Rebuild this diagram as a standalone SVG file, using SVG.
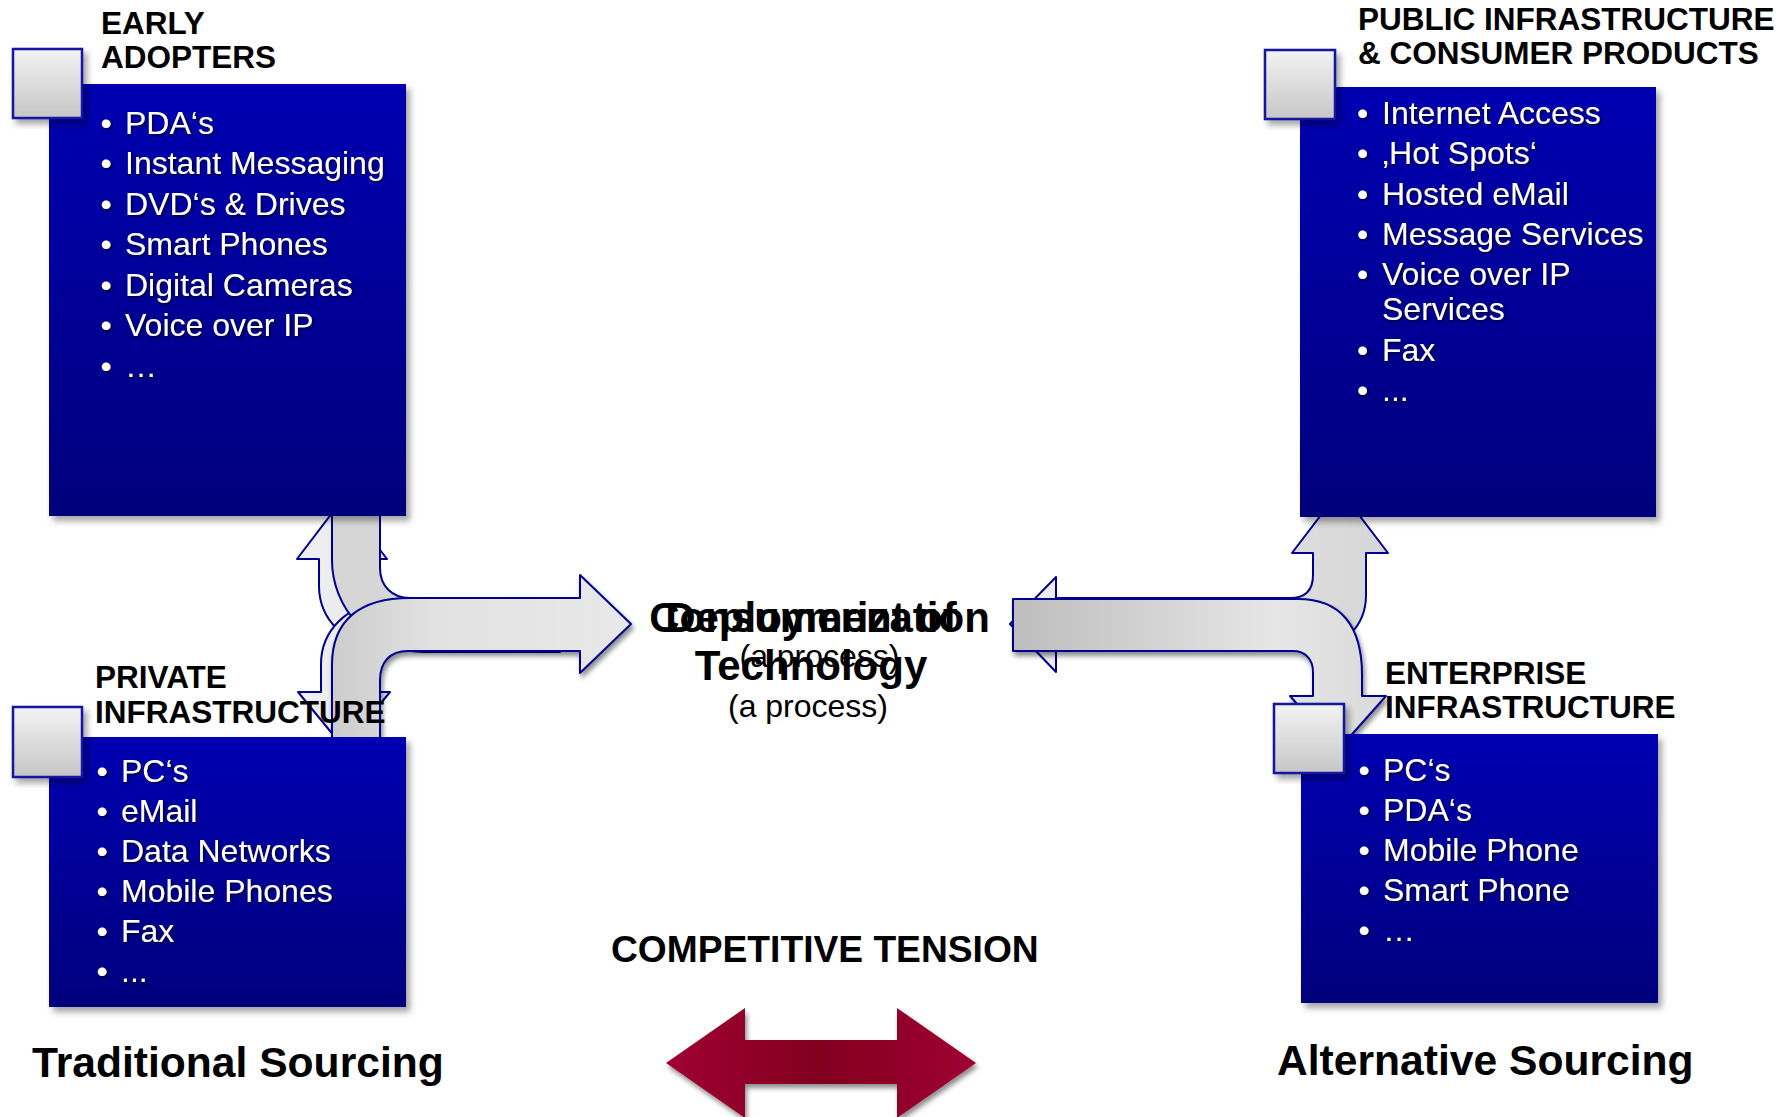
<svg xmlns="http://www.w3.org/2000/svg" width="1785" height="1117" viewBox="0 0 1785 1117">
<defs>
  <linearGradient id="boxGrad" x1="0" y1="0" x2="0" y2="1">
    <stop offset="0" stop-color="#0000B2"/>
    <stop offset="1" stop-color="#00007C"/>
  </linearGradient>
  <linearGradient id="sqGrad" x1="0" y1="0" x2="0" y2="1">
    <stop offset="0" stop-color="#F3F3F3"/>
    <stop offset="1" stop-color="#C6C6C6"/>
  </linearGradient>
  <linearGradient id="backGrad" x1="0" y1="0" x2="1" y2="0">
    <stop offset="0" stop-color="#F0F0F0"/>
    <stop offset="1" stop-color="#D6D6D6"/>
  </linearGradient>
  <linearGradient id="lFrontGrad" gradientUnits="userSpaceOnUse" x1="332" y1="0" x2="631" y2="0">
    <stop offset="0" stop-color="#CCCCCC"/>
    <stop offset="0.35" stop-color="#E2E2E2"/>
    <stop offset="1" stop-color="#E8E8E8"/>
  </linearGradient>
  <linearGradient id="rFrontGrad" gradientUnits="userSpaceOnUse" x1="1013" y1="0" x2="1362" y2="0">
    <stop offset="0" stop-color="#BDBDBD"/>
    <stop offset="0.75" stop-color="#E6E6E6"/>
    <stop offset="1" stop-color="#DCDCDC"/>
  </linearGradient>
  <linearGradient id="redGrad" x1="0" y1="0" x2="1" y2="0">
    <stop offset="0" stop-color="#A00032"/>
    <stop offset="0.5" stop-color="#82001F"/>
    <stop offset="1" stop-color="#A00032"/>
  </linearGradient>
  <filter id="boxShadow" x="-10%" y="-10%" width="125%" height="125%">
    <feDropShadow dx="4" dy="5" stdDeviation="3" flood-color="#000" flood-opacity="0.35"/>
  </filter>
  <filter id="arrowShadow" x="-10%" y="-10%" width="125%" height="130%">
    <feDropShadow dx="2" dy="4" stdDeviation="2.5" flood-color="#000" flood-opacity="0.45"/>
  </filter>
  <filter id="textShadow" x="-5%" y="-20%" width="115%" height="150%">
    <feDropShadow dx="1.5" dy="1.5" stdDeviation="1" flood-color="#000022" flood-opacity="0.9"/>
  </filter>
  <style>
    text { font-family: "Liberation Sans", Arial, sans-serif; }
    .title { font-size: 31.5px; font-weight: bold; fill: #000; }
    .item { font-size: 32px; fill: #FFFFFF; }
    .box { fill: url(#boxGrad); filter: url(#boxShadow); }
    .sq { fill: url(#sqGrad); stroke: #1212A0; stroke-width: 2.5; filter: url(#boxShadow); }
    .arr { stroke: #000090; stroke-width: 2; stroke-linejoin: round; }
    .back { fill: url(#backGrad); }
    .big { font-size: 42px; font-weight: bold; fill: #000; }
    .proc { font-size: 32px; fill: #000; }
    .src { font-size: 42.6px; font-weight: bold; fill: #000; }
  </style>
</defs>

<g id="connectors">
  <!-- left junction -->
  <path class="arr back" d="M 319,559 L 297,559 L 342,500 L 387,559 L 365,559 L 365,590 Q 365,600 378,600 L 560,600 L 560,646 L 379,646 A 60,60 0 0 1 319,586 Z"/>
  <path class="arr back" d="M 321,692 L 298,692 L 344,748 L 390,692 L 367,692 L 367,660 Q 367,650 380,650 L 560,650 L 560,604 L 381,604 A 60,60 0 0 0 321,664 Z"/>
  <path class="arr" fill="#D6D6D6" d="M 332,500 L 380,500 L 380,568 C 380,586 392,598 410,598 L 560,598 L 560,652 L 424,652 A 92,92 0 0 1 332,560 Z"/>
  <path class="arr" fill="url(#lFrontGrad)" filter="url(#arrowShadow)" d="M 332,745 L 332,665 C 332,620 360,598 410,598 L 580,598 L 580,575 L 631,624 L 580,673 L 580,651 L 408,651 C 390,651 380,662 380,680 L 380,745 Z"/>
  <!-- right junction -->
  <path class="arr back" d="M 1313,553 L 1292,553 L 1340,490 L 1388,553 L 1366,553 L 1366,595 C 1366,625 1345,651 1300,651 L 1056,651 L 1056,672 L 1010,624 L 1056,577 L 1056,598 L 1290,598 C 1305,598 1313,590 1313,575 Z"/>
  <path class="arr" fill="url(#rFrontGrad)" filter="url(#arrowShadow)" d="M 1013,599 L 1298,599 C 1340,599 1362,625 1362,675 L 1362,696 L 1386,696 L 1338,750 L 1290,696 L 1313,696 L 1313,672 C 1313,659 1305,651 1293,651 L 1013,651 Z"/>
</g>

<g id="early-adopters">
  <rect class="box" x="49" y="84" width="357" height="432"/>
  <rect class="sq" x="13" y="49" width="69" height="69"/>
  <text class="title" x="101" y="34">EARLY</text>
  <text class="title" x="101" y="68">ADOPTERS</text>
  <g filter="url(#textShadow)">
    <text class="item" x="100.5" y="133.5">•</text><text class="item" x="125" y="133.5">PDA‘s</text>
    <text class="item" x="100.5" y="174">•</text><text class="item" x="125" y="174">Instant Messaging</text>
    <text class="item" x="100.5" y="214.5">•</text><text class="item" x="125" y="214.5">DVD‘s &amp; Drives</text>
    <text class="item" x="100.5" y="255">•</text><text class="item" x="125" y="255">Smart Phones</text>
    <text class="item" x="100.5" y="295.5">•</text><text class="item" x="125" y="295.5">Digital Cameras</text>
    <text class="item" x="100.5" y="336">•</text><text class="item" x="125" y="336">Voice over IP</text>
    <text class="item" x="100.5" y="376.5">•</text><text class="item" x="125" y="376.5">…</text>
  </g>
</g>

<g id="public-infrastructure">
  <rect class="box" x="1300" y="87" width="356" height="430"/>
  <rect class="sq" x="1265" y="50" width="70" height="69"/>
  <text class="title" x="1358" y="30">PUBLIC INFRASTRUCTURE</text>
  <text class="title" x="1358" y="64">&amp; CONSUMER PRODUCTS</text>
  <g filter="url(#textShadow)">
    <text class="item" x="1357" y="123.5">•</text><text class="item" x="1382" y="123.5">Internet Access</text>
    <text class="item" x="1357" y="164">•</text><text class="item" x="1382" y="164">‚Hot Spots‘</text>
    <text class="item" x="1357" y="204.5">•</text><text class="item" x="1382" y="204.5">Hosted eMail</text>
    <text class="item" x="1357" y="244.5">•</text><text class="item" x="1382" y="244.5">Message Services</text>
    <text class="item" x="1357" y="285">•</text><text class="item" x="1382" y="285">Voice over IP</text>
    <text class="item" x="1382" y="319.5">Services</text>
    <text class="item" x="1357" y="360.5">•</text><text class="item" x="1382" y="360.5">Fax</text>
    <text class="item" x="1357" y="400.5">•</text><text class="item" x="1382" y="400.5">...</text>
  </g>
</g>

<g id="private-infrastructure">
  <rect class="box" x="49" y="737" width="357" height="270"/>
  <rect class="sq" x="13" y="707" width="69" height="70"/>
  <text class="title" x="95" y="688">PRIVATE</text>
  <text class="title" x="95" y="723">INFRASTRUCTURE</text>
  <g filter="url(#textShadow)">
    <text class="item" x="96.5" y="782">•</text><text class="item" x="121" y="782">PC‘s</text>
    <text class="item" x="96.5" y="822">•</text><text class="item" x="121" y="822">eMail</text>
    <text class="item" x="96.5" y="862">•</text><text class="item" x="121" y="862">Data Networks</text>
    <text class="item" x="96.5" y="902">•</text><text class="item" x="121" y="902">Mobile Phones</text>
    <text class="item" x="96.5" y="942">•</text><text class="item" x="121" y="942">Fax</text>
    <text class="item" x="96.5" y="982">•</text><text class="item" x="121" y="982">...</text>
  </g>
</g>

<g id="enterprise-infrastructure">
  <rect class="box" x="1301" y="734" width="357" height="269"/>
  <rect class="sq" x="1274" y="704" width="70" height="69"/>
  <text class="title" x="1385" y="684">ENTERPRISE</text>
  <text class="title" x="1385" y="718">INFRASTRUCTURE</text>
  <g filter="url(#textShadow)">
    <text class="item" x="1358.5" y="781">•</text><text class="item" x="1383" y="781">PC‘s</text>
    <text class="item" x="1358.5" y="821">•</text><text class="item" x="1383" y="821">PDA‘s</text>
    <text class="item" x="1358.5" y="861">•</text><text class="item" x="1383" y="861">Mobile Phone</text>
    <text class="item" x="1358.5" y="901">•</text><text class="item" x="1383" y="901">Smart Phone</text>
    <text class="item" x="1358.5" y="941">•</text><text class="item" x="1383" y="941">…</text>
  </g>
</g>

<g id="center-label">
  <text class="big" x="819.5" y="632" text-anchor="middle">Consumerization</text>
  <text class="proc" x="819.5" y="667" text-anchor="middle">(a process)</text>
  <text class="big" x="811" y="632" text-anchor="middle">Deployment of</text>
  <text class="big" x="811" y="680" text-anchor="middle">Technology</text>
  <text class="proc" x="808" y="717" text-anchor="middle">(a process)</text>
</g>

<g id="competitive-tension">
  <text x="611" y="962" font-size="37.2" font-weight="bold" fill="#000">COMPETITIVE TENSION</text>
  <path fill="url(#redGrad)" filter="url(#arrowShadow)" d="M 666,1063 L 745,1008 L 745,1040 L 897,1040 L 897,1008 L 976,1063 L 897,1118 L 897,1084 L 745,1084 L 745,1118 Z"/>
</g>

<g id="traditional-sourcing">
  <text class="src" x="32" y="1077">Traditional Sourcing</text>
</g>
<g id="alternative-sourcing">
  <text class="src" x="1277" y="1075">Alternative Sourcing</text>
</g>
</svg>
